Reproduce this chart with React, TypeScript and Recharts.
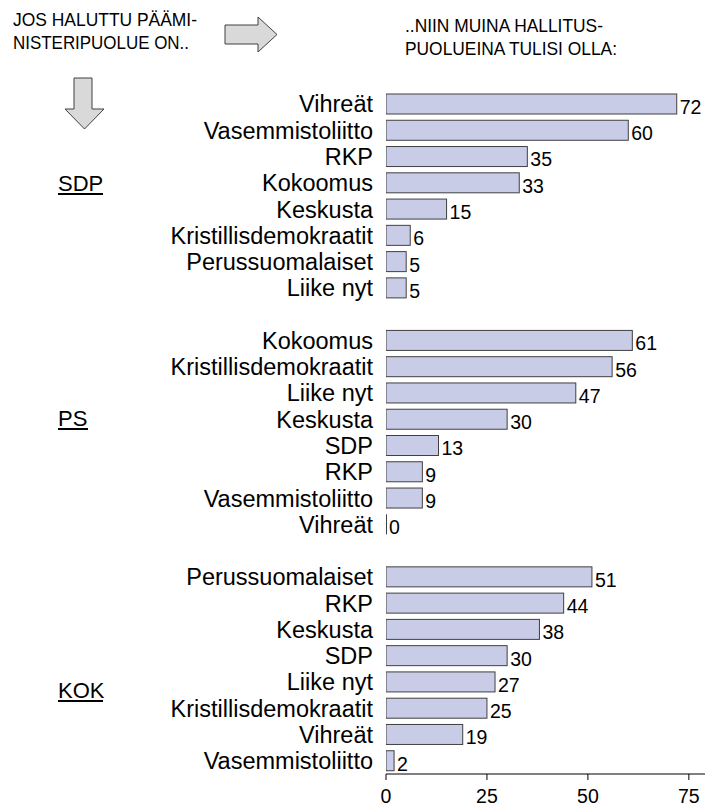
import React from "react";
import { BarChart, Bar, XAxis, YAxis, LabelList } from "recharts";

const groupNames = ["SDP", "PS", "KOK"];

const sdpCategories = ["Vihreät", "Vasemmistoliitto", "RKP", "Kokoomus", "Keskusta", "Kristillisdemokraatit", "Perussuomalaiset", "Liike nyt"];
const sdpValues = [72, 60, 35, 33, 15, 6, 5, 5];

const psCategories = ["Kokoomus", "Kristillisdemokraatit", "Liike nyt", "Keskusta", "SDP", "RKP", "Vasemmistoliitto", "Vihreät"];
const psValues = [61, 56, 47, 30, 13, 9, 9, 0];

const kokCategories = ["Perussuomalaiset", "RKP", "Keskusta", "SDP", "Liike nyt", "Kristillisdemokraatit", "Vihreät", "Vasemmistoliitto"];
const kokValues = [51, 44, 38, 30, 27, 25, 19, 2];

const xTicks = [0, 25, 50, 75];

const groups = [
  { cats: sdpCategories, vals: sdpValues },
  { cats: psCategories, vals: psValues },
  { cats: kokCategories, vals: kokValues },
];

type Row = { key: string; name: string; value: number | null };
const rows: Row[] = [];
groups.forEach((g, gi) => {
  g.cats.forEach((c, i) => rows.push({ key: `${groupNames[gi]}-${i}`, name: c, value: g.vals[i] }));
  if (gi < groups.length - 1) rows.push({ key: `gap-${gi}`, name: "", value: null });
});
const nameByKey: Record<string, string> = {};
rows.forEach((r) => (nameByKey[r.key] = r.name));

const FONT = "'Liberation Sans', Arial, sans-serif";
const NARROW = "'Liberation Sans Narrow', 'Arial Narrow', 'Liberation Sans', Arial, sans-serif";

const BarShape = (props: any) => {
  const { x, y, width, height } = props;
  if (width == null || height == null) return null;
  if (width <= 0.5) {
    return <line x1={x + 0.5} x2={x + 0.5} y1={y} y2={y + height} stroke="#404040" strokeWidth={1} />;
  }
  return <rect x={x} y={y} width={width} height={height} fill="#c8cce6" stroke="#404040" strokeWidth={1} />;
};

export default function App() {
  return (
    <div style={{ position: "absolute", left: 0, top: 0, width: 705, height: 807, background: "#fff" }}>
      <BarChart
        width={705}
        height={807}
        data={rows}
        layout="vertical"
        margin={{ top: 91, right: 0, bottom: 0, left: 0 }}
        barSize={20}
        style={{ overflow: "visible", fontFamily: FONT }}
      >
        <XAxis
          type="number"
          domain={[0, 79]}
          ticks={xTicks}
          allowDataOverflow
          height={33}
          tickSize={6}
          tickMargin={9}
          axisLine={{ stroke: "#000" }}
          tickLine={{ stroke: "#000" }}
          tick={{ fontSize: 19.5, fill: "#000", fontFamily: FONT }}
        />
        <YAxis
          type="category"
          dataKey="key"
          width={386}
          interval={0}
          tickSize={0}
          tickMargin={13}
          axisLine={false}
          tickLine={false}
          tickFormatter={(k: string) => nameByKey[k] ?? ""}
          tick={{ fontSize: 23.5, fill: "#000", fontFamily: FONT }}
        />
        <Bar dataKey="value" isAnimationActive={false} shape={<BarShape />}>
          <LabelList
            dataKey="value"
            position="right"
            offset={3}
            formatter={(v: any) => (v == null ? "" : v)}
            style={{ fontSize: 19.5, fill: "#000", fontFamily: FONT }}
            dy={3}
          />
        </Bar>
      </BarChart>
      <svg
        width={705}
        height={807}
        style={{ position: "absolute", left: 0, top: 0, pointerEvents: "none", fontFamily: FONT }}
      >
        <text x={13} y={26} fontSize={19} fontFamily={NARROW} textLength={184} lengthAdjust="spacingAndGlyphs">JOS HALUTTU PÄÄMI-</text>
        <text x={13} y={48.5} fontSize={19} fontFamily={NARROW} textLength={176} lengthAdjust="spacingAndGlyphs">NISTERIPUOLUE ON..</text>
        <text x={405} y={32} fontSize={19} fontFamily={NARROW} textLength={198} lengthAdjust="spacingAndGlyphs">..NIIN MUINA HALLITUS-</text>
        <text x={405} y={54.5} fontSize={19} fontFamily={NARROW} textLength={212} lengthAdjust="spacingAndGlyphs">PUOLUEINA TULISI OLLA:</text>
        <polygon
          points="225,25 258,25 258,17 277,34.5 258,52 258,44 225,44"
          fill="#d9d9d9"
          stroke="#404040"
          strokeWidth={1}
        />
        <polygon
          points="74,78 92,78 92,109 104,109 84.5,129 65,109 74,109"
          fill="#d9d9d9"
          stroke="#404040"
          strokeWidth={1}
        />
        {[
          { t: groupNames[0], y: 191, w: 45 },
          { t: groupNames[1], y: 426, w: 30 },
          { t: groupNames[2], y: 698, w: 45 },
        ].map((g) => (
          <g key={g.t}>
            <text x={58} y={g.y} fontSize={22} fill="#000">{g.t}</text>
            <line x1={58} x2={58 + g.w} y1={g.y + 3} y2={g.y + 3} stroke="#000" strokeWidth={2} />
          </g>
        ))}
      </svg>
    </div>
  );
}
